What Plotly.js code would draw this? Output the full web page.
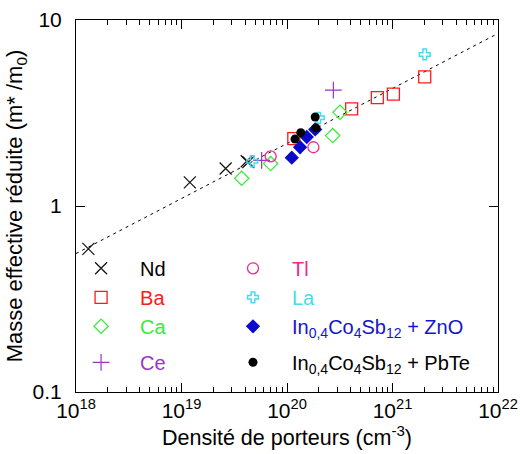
<!DOCTYPE html>
<html><head><meta charset="utf-8">
<script src="https://cdn.plot.ly/plotly-3.0.1.min.js"></script>
<style>html,body{margin:0;padding:0;background:#fff}#chart{width:520px;height:454px}</style>
</head><body><div id="chart"></div>
<script>
// Densité de porteurs (cm^-3) and reduced effective mass (m*/m0)
const ndX = [1.31e18, 1.2e19, 2.62e19, 4.15e19, 4.3e19];
const ndY = [0.588, 1.34, 1.59, 1.74, 1.72];
const tlX = [7.0e19, 1.78e20];
const tlY = [1.85, 2.07];
const baX = [1.16e20, 4.1e20, 7.18e20, 1.02e21, 2.02e21];
const baY = [2.30, 3.33, 3.83, 3.99, 4.94];
const laX = [4.69e19, 2.0e20, 2.02e21];
const laY = [1.74, 2.98, 6.53];
const caX = [3.72e19, 7.0e19, 2.71e20, 3.18e20];
const caY = [1.41, 1.69, 2.39, 3.19];
const znoX = [1.11e20, 1.33e20, 1.54e20, 1.85e20];
const znoY = [1.82, 2.07, 2.35, 2.58];
const ceX = [5.75e19, 2.75e20];
const ceY = [1.76, 4.2];
const pbteX = [1.19e20, 1.35e20, 1.88e20, 1.85e20];
const pbteY = [2.29, 2.48, 2.63, 3.01];
const fitX = [1e18, 1e22];
const fitY = [0.555, 8.47];
const xTicks = [1e18, 1e19, 1e20, 1e21, 1e22];
const xTickText = ['10<sup>18</sup>', '10<sup>19</sup>', '10<sup>20</sup>', '10<sup>21</sup>', '10<sup>22</sup>'];
const yTicks = [0.1, 1, 10];
const yTickText = ['0.1', '1', '10'];

const font = "Liberation Sans, Arial, sans-serif";
function lbl(t, c){ return '<span style="color:'+c+'">'+t+'</span>'; }

const traces = [
  {x: fitX, y: fitY, mode: 'lines', line: {color: '#000', width: 1, dash: '3px,4px'}, showlegend: false, hoverinfo: 'skip'},
  {x: ndX, y: ndY, name: lbl('Nd', '#000'), legend: 'legend', legendgroup: 'a', mode: 'markers', marker: {symbol: 'x-thin-open', size: 12, color: '#111', line: {width: 1.2, color: '#111'}}},
  {x: baX, y: baY, name: lbl('Ba', '#ff1a1a'), legend: 'legend', legendgroup: 'a', mode: 'markers', marker: {symbol: 'square-open', size: 12, color: '#ff1a1a', line: {width: 1.3}}},
  {x: caX, y: caY, name: lbl('Ca', '#33ee33'), legend: 'legend', legendgroup: 'a', mode: 'markers', marker: {symbol: 'diamond-open', size: 11, color: '#33ee33', line: {width: 1.2}}},
  {x: ceX, y: ceY, name: lbl('Ce', '#9933cc'), legend: 'legend', legendgroup: 'b', mode: 'markers', marker: {symbol: 'cross-thin-open', size: 12, color: '#9933cc', line: {width: 1.2, color: '#9933cc'}}},
  {x: tlX, y: tlY, name: lbl('Tl', '#ee2a8a'), legend: 'legend2', legendgroup: 'c', mode: 'markers', marker: {symbol: 'circle-open', size: 11, color: '#ee2a8a', line: {width: 1.3}}},
  {x: laX, y: laY, name: lbl('La', '#44ddee'), legend: 'legend2', legendgroup: 'c', mode: 'markers', marker: {symbol: 'cross-open', size: 9, color: '#44ddee', line: {width: 1.5}}},
  {x: znoX, y: znoY, name: lbl('In<sub>0,4</sub>Co<sub>4</sub>Sb<sub>12</sub> + ZnO', '#1515cc'), legend: 'legend2', legendgroup: 'c', mode: 'markers', marker: {symbol: 'diamond', size: 11, color: '#0a0acc'}},
  {x: pbteX, y: pbteY, name: lbl('In<sub>0,4</sub>Co<sub>4</sub>Sb<sub>12</sub> + PbTe', '#000'), legend: 'legend2', legendgroup: 'd', mode: 'markers', marker: {symbol: 'circle', size: 9, color: '#000'}}
];

const legBase = {orientation: 'v', xanchor: 'left', yanchor: 'top', itemwidth: 68,
  font: {family: font, size: 20}, bgcolor: 'rgba(0,0,0,0)', tracegroupgap: 7, traceorder: 'grouped'};

const layout = {
  width: 520, height: 454,
  margin: {l: 76, r: 22, t: 20, b: 62},
  paper_bgcolor: '#fff', plot_bgcolor: '#fff',
  font: {family: font, size: 18, color: '#000'},
  showlegend: true,
  legend: Object.assign({}, legBase, {x: -0.033, y: 0.385}),
  legend2: Object.assign({}, legBase, {x: 0.327, y: 0.385}),
  xaxis: {type: 'log', range: [17.99999, 22.00001], tickmode: 'array', tickvals: xTicks, ticktext: xTickText,
          ticklabeloverflow: 'allow',
          showgrid: false, zeroline: false, showline: true, linecolor: '#000', linewidth: 1, mirror: 'ticks',
          ticks: 'inside', ticklen: 9, tickcolor: '#000',
          minor: {ticks: 'inside', ticklen: 5, dtick: 'D1', tickcolor: '#000', showgrid: false},
          tickfont: {family: font, size: 21},
          title: {text: 'Densité de porteurs (cm<sup>-3</sup>)', font: {family: font, size: 21.5}, standoff: 4}},
  yaxis: {type: 'log', range: [-1.00001, 1.00001], tickmode: 'array', tickvals: yTicks, ticktext: yTickText,
          ticklabeloverflow: 'allow',
          showgrid: false, zeroline: false, showline: true, linecolor: '#000', linewidth: 1, mirror: 'ticks',
          ticks: 'inside', ticklen: 9, tickcolor: '#000', ticklabelstandoff: 9,
          tickfont: {family: font, size: 21},
          title: {text: 'Masse effective réduite (m* /m<sub>0</sub>)', font: {family: font, size: 22}, standoff: 3}}
};

Plotly.newPlot('chart', traces, layout, {displayModeBar: false, staticPlot: true});
</script></body></html>
